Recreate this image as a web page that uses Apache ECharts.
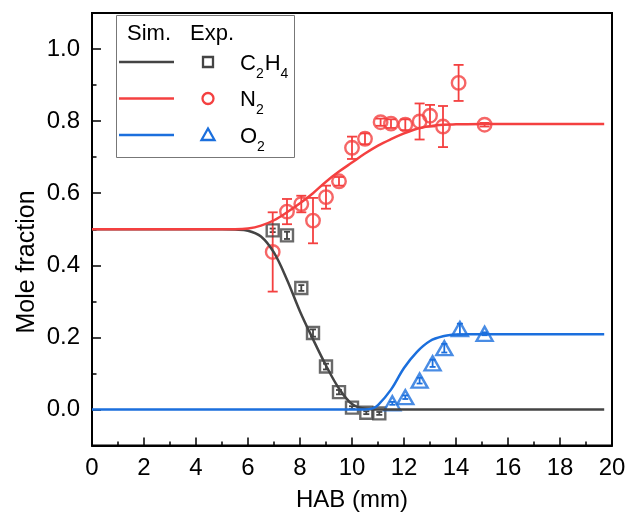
<!DOCTYPE html>
<html><head><meta charset="utf-8">
<script src="https://cdn.jsdelivr.net/npm/echarts@6/dist/echarts.min.js"></script>
<style>html,body{margin:0;padding:0;background:#fff}#c{width:630px;height:520px}</style>
</head><body><div id="c"></div>
<script>
// ---- Simulation curves ----
const simC2H4X = [0, 5, 5.5, 6, 6.5, 7, 7.5, 8, 8.5, 9, 9.5, 10, 10.5, 11, 19.7];
const simC2H4Y = [0.5, 0.5, 0.499, 0.496, 0.48, 0.435, 0.36, 0.272, 0.195, 0.122, 0.058, 0.015, 0.002, 0, 0];
const simN2X = [0, 5, 5.5, 6, 6.5, 7, 7.5, 8, 8.5, 9, 9.5, 10, 10.5, 11, 11.5, 12, 12.5, 13, 13.5, 14, 15, 19.7];
const simN2Y = [0.5, 0.5, 0.5, 0.502, 0.51, 0.525, 0.547, 0.572, 0.6, 0.632, 0.66, 0.685, 0.71, 0.732, 0.75, 0.766, 0.779, 0.786, 0.79, 0.791, 0.792, 0.792];
const simO2X = [0, 10.5, 10.8, 11, 11.5, 12, 12.5, 13, 13.5, 14, 14.5, 19.7];
const simO2Y = [0, 0, 0.003, 0.012, 0.055, 0.115, 0.16, 0.19, 0.203, 0.208, 0.209, 0.209];

// ---- Experimental data ----
const expC2H4X = [6.95, 7.5, 8.05, 8.5, 9.0, 9.5, 10.0, 10.55, 11.05];
const expC2H4Y = [0.497, 0.483, 0.337, 0.212, 0.119, 0.048, 0.005, -0.009, -0.011];
const expC2H4Err = [0.005, 0.01, 0.008, 0.01, 0.008, 0.006, 0.004, 0.004, 0.004];
const expN2X = [6.95, 7.5, 8.05, 8.5, 9.0, 9.5, 10.0, 10.5, 11.1, 11.5, 12.05, 12.6, 13.0, 13.5, 14.1, 15.1];
const expN2Y = [0.437, 0.549, 0.570, 0.524, 0.589, 0.633, 0.726, 0.751, 0.797, 0.793, 0.790, 0.799, 0.815, 0.785, 0.906, 0.790];
const expN2Err = [0.11, 0.035, 0.023, 0.063, 0.032, 0.012, 0.031, 0.015, 0.01, 0.012, 0.015, 0.05, 0.03, 0.057, 0.05, 0.005];
const expO2X = [11.55, 12.05, 12.6, 13.1, 13.55, 14.15, 15.1];
const expO2Y = [0.017, 0.034, 0.080, 0.128, 0.170, 0.223, 0.210];
const expO2Err = [0.004, 0.005, 0.008, 0.01, 0.012, 0.015, 0.004];

const xAxisName = 'HAB (mm)';
const yAxisName = 'Mole fraction';
const legendHeader = ['Sim.', 'Exp.'];
// each legend label: [main, sub, main, sub ...]
const legendLabels = [['C', '2', 'H', '4'], ['N', '2'], ['O', '2']];

const FONT = '"Liberation Sans", Arial, sans-serif';
const FS = 24;
const cBlack = '#444444', cRed = '#f44040', cBlue = '#1b6fdd';

const zip = (xs, ys) => xs.map((x, i) => [x, ys[i]]);
const zip3 = (xs, ys, es) => xs.map((x, i) => [x, ys[i], es[i]]);

function lineSeries(xs, ys, color) {
  return { type: 'line', data: zip(xs, ys), showSymbol: false, smooth: 0.35,
    lineStyle: { color: color, width: 2.5 }, yAxisIndex: 0, silent: true };
}
function errSeries(xs, ys, es, color, cap) {
  return { type: 'custom', yAxisIndex: 0, encode: { x: 0, y: 1 }, data: zip3(xs, ys, es), silent: true,
    renderItem: function (params, api) {
      const x = api.value(0), y = api.value(1), e = api.value(2);
      const t = api.coord([x, y + e]), b = api.coord([x, y - e]);
      const st = { stroke: color, lineWidth: 1.8 };
      return { type: 'group', children: [
        { type: 'line', shape: { x1: t[0], y1: t[1], x2: b[0], y2: b[1] }, style: st },
        { type: 'line', shape: { x1: t[0] - cap, y1: t[1], x2: t[0] + cap, y2: t[1] }, style: st },
        { type: 'line', shape: { x1: b[0] - cap, y1: b[1], x2: b[0] + cap, y2: b[1] }, style: st }
      ] };
    } };
}
function scatterSeries(xs, ys, symbol, size, color) {
  return { type: 'scatter', data: zip(xs, ys), symbol: symbol, symbolSize: size, yAxisIndex: 0,
    itemStyle: { color: 'rgba(0,0,0,0)', borderColor: color, borderWidth: 2.4 }, silent: true };
}

const tickStyle = { color: '#000', width: 1.5 };
const rowY = [62, 98.5, 135];
const rowColors = [cBlack, cRed, cBlue];
function txt(s, x, y, size) {
  return { type: 'text', x: x, y: y, z: 101, style: { text: s, fill: '#000', font: size + 'px ' + FONT,
    verticalAlign: 'middle', textVerticalAlign: 'middle' } };
}
const graphic = [
  { type: 'rect', shape: { x: 116.5, y: 15.5, width: 178, height: 142 }, style: { fill: '#fff', stroke: '#777', lineWidth: 1 }, z: 100 },
  txt(legendHeader[0], 127, 34, 22),
  txt(legendHeader[1], 190, 34, 22),
  { type: 'text', x: 27, y: 262, rotation: Math.PI / 2, z: 101,
    style: { text: yAxisName, fill: '#000', font: '25px ' + FONT, align: 'center', textAlign: 'center', verticalAlign: 'middle', textVerticalAlign: 'middle' } }
];
const mainW = { C: 0.722, H: 0.722, N: 0.722, O: 0.778 };
rowY.forEach((y, i) => {
  graphic.push({ type: 'line', z: 101, shape: { x1: 119, y1: y, x2: 174, y2: y }, style: { stroke: rowColors[i], lineWidth: 2.5 } });
  let x = 240;
  legendLabels[i].forEach((s, j) => {
    if (j % 2 === 0) { graphic.push(txt(s, x, y + 1.5, 22)); x += mainW[s] * 22; }
    else { graphic.push(txt(s, x, y + 12, 14)); x += 0.556 * 14 + 1; }
  });
});
graphic.push({ type: 'rect', z: 101, shape: { x: 203, y: rowY[0] - 5, width: 10, height: 10 }, style: { fill: 'none', stroke: cBlack, lineWidth: 2.3 } });
graphic.push({ type: 'circle', z: 101, shape: { cx: 208, cy: rowY[1], r: 5.5 }, style: { fill: 'none', stroke: cRed, lineWidth: 2.3 } });
graphic.push({ type: 'polygon', z: 101, shape: { points: [[208, rowY[2] - 6.5], [214.5, rowY[2] + 5], [201.5, rowY[2] + 5]] }, style: { fill: 'none', stroke: cBlue, lineWidth: 2.3 } });

const option = {
  animation: false,
  textStyle: { fontFamily: FONT },
  grid: { left: 92, right: 18, top: 13, bottom: 74.5, show: true, borderColor: '#000', borderWidth: 2, backgroundColor: 'transparent' },
  xAxis: {
    type: 'value', min: 0, max: 20, interval: 2,
    name: xAxisName, nameLocation: 'middle', nameGap: 43,
    nameTextStyle: { fontSize: FS, color: '#000', fontFamily: FONT },
    axisLine: { show: true, onZero: false, lineStyle: { color: '#000', width: 2 } },
    axisTick: { show: true, inside: true, length: 8, lineStyle: tickStyle },
    minorTick: { show: true, splitNumber: 2, length: 4, lineStyle: tickStyle },
    axisLabel: { fontSize: FS, color: '#000', margin: 11, fontFamily: FONT },
    splitLine: { show: false }, minorSplitLine: { show: false }
  },
  yAxis: [
    { type: 'value', min: -0.1, max: 1.1, interval: 0.2, position: 'left',
      axisLine: { show: true, onZero: false, lineStyle: { color: '#000', width: 2 } },
      axisTick: { show: true, inside: true, length: 4.5, lineStyle: tickStyle },
      minorTick: { show: true, splitNumber: 2, length: 9, lineStyle: tickStyle },
      axisLabel: { show: false }, splitLine: { show: false }, minorSplitLine: { show: false } },
    { type: 'value', min: -0.1, max: 1.1, interval: 0.1, position: 'left',
      axisLine: { show: false }, axisTick: { show: false }, splitLine: { show: false },
      axisLabel: { fontSize: FS, color: '#000', margin: 12, fontFamily: FONT,
        formatter: function (v) { const k = Math.round(v * 10); return (k >= 0 && k <= 10 && k % 2 === 0) ? (k / 10).toFixed(1) : ''; } } }
  ],
  series: [
    lineSeries(simC2H4X, simC2H4Y, cBlack),
    lineSeries(simN2X, simN2Y, cRed),
    lineSeries(simO2X, simO2Y, cBlue),
    errSeries(expC2H4X, expC2H4Y, expC2H4Err, cBlack, 3),
    errSeries(expN2X, expN2Y, expN2Err, cRed, 5),
    errSeries(expO2X, expO2Y, expO2Err, cBlue, 3),
    scatterSeries(expC2H4X, expC2H4Y, 'rect', 12, cBlack),
    scatterSeries(expN2X, expN2Y, 'circle', 13.5, cRed),
    scatterSeries(expO2X, expO2Y, 'triangle', [16, 14], cBlue)
  ],
  graphic: graphic
};
const chart = echarts.init(document.getElementById('c'), null, { renderer: 'canvas' });
chart.setOption(option);
</script>
</body></html>
